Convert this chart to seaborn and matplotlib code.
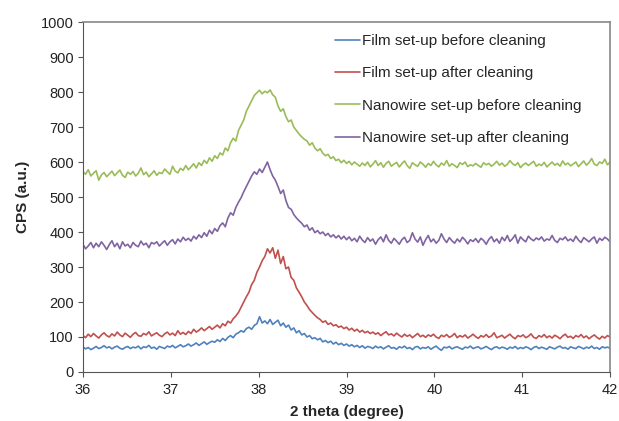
import numpy as np
import pandas as pd
import matplotlib
matplotlib.use("Agg")
import matplotlib.pyplot as plt
import seaborn as sns

# 2 theta grid, 0.03 degree steps from 36 to 42
theta = np.round(np.linspace(36, 42, 201), 3)

film_before = [
    72, 66, 70, 64, 68, 73, 67, 70, 75, 69,
    72, 66, 71, 74, 68, 65, 70, 73, 67, 71,
    69, 74, 66, 72, 70, 76, 68, 71, 65, 73,
    70, 67, 74, 71, 76, 69, 73, 78, 72, 75,
    80, 74, 78, 83, 76, 81, 86, 79, 84, 88,
    85, 92, 87, 96, 90, 99, 104, 98, 108, 112,
    118, 114, 124, 128, 122, 133, 138, 158, 140, 146,
    138, 150, 136, 142, 148, 132, 140, 128, 134, 120,
    126, 112, 118, 106, 110, 100, 104, 95, 98, 92,
    96, 86, 90, 84, 88, 80, 85, 78, 82, 76,
    80, 74, 78, 72, 76, 70, 75, 68, 73, 71,
    67, 74, 69, 72, 66, 71, 75, 68, 70, 65,
    72, 69, 74, 67, 70, 64, 71, 73, 66, 70,
    68, 72, 65, 70, 74, 67, 62, 71, 69, 73,
    66, 70, 72, 68, 65, 71, 69, 74, 67, 70,
    72, 66, 69, 73, 68, 64, 70, 72, 67, 71,
    69, 65, 71, 68, 73, 66, 70, 67, 72, 69,
    64, 70, 73, 67, 71, 68, 65, 72, 69, 66,
    71, 74, 68, 70, 65, 72, 69, 67, 73, 70,
    66, 71, 68, 74, 67, 70, 65, 72, 69, 71,
    68]

film_after = [
    104, 98, 108, 101, 110, 103, 97, 106, 112, 104,
    100, 109, 103, 114, 106, 101, 111, 105, 99, 108,
    113, 104, 102, 110, 106, 115, 103, 108, 112, 105,
    101, 109, 114, 106, 111, 104, 118, 108, 113, 107,
    116, 110, 122, 114, 119, 126, 118, 124, 130, 122,
    128, 134, 126, 138, 132, 145, 140, 152, 160, 170,
    185, 200, 215, 228, 250, 262, 285, 300, 318, 330,
    352, 340, 355, 325, 348, 310, 330, 295, 300, 270,
    262, 240, 228, 215, 200, 190, 178, 170, 162, 155,
    150, 142, 146, 136, 140, 132, 135, 128, 131, 124,
    128, 120, 125, 117, 122, 114, 119, 112, 116, 110,
    114, 108, 112, 104, 110, 115, 106, 109, 103, 111,
    105, 100, 108, 102, 106, 98, 104, 110, 101, 105,
    99, 106, 102, 108, 100, 96, 105, 101, 107, 99,
    103, 110, 98, 104, 100, 106, 97, 102, 108, 101,
    96, 104, 100, 107, 99, 103, 112, 98, 101, 105,
    97, 103, 108, 100, 95, 104, 101, 106, 98, 102,
    109, 99, 96, 104, 100, 107, 98, 103, 97, 105,
    101, 95, 103, 108, 99, 102, 96, 104, 100, 107,
    98, 103, 95, 101, 106, 99, 94, 102, 97, 104,
    100]

nano_before = [
    572, 565, 578, 560, 568, 575, 548, 563, 570, 558,
    566, 574, 561, 569, 577, 562, 556, 571, 565, 573,
    560, 568, 583, 564, 571, 558, 566, 575, 562, 570,
    567, 580, 572, 565, 588, 574, 569, 582, 576, 590,
    578, 586, 595, 583, 598, 590, 605, 596, 612, 602,
    618, 610, 626, 620, 640, 632, 655, 668, 660, 690,
    705, 720, 745, 760, 775, 790, 798, 805, 795, 802,
    798, 806, 792, 785, 760, 745, 752, 730, 715, 720,
    700, 690, 680, 672, 665, 660, 648, 655, 640, 632,
    638, 625, 618, 622, 610, 615, 604, 608, 598, 605,
    596, 602, 592, 600, 594, 588, 597, 590, 600, 586,
    594, 604, 590, 598, 585, 596, 602, 588, 594, 599,
    586, 595, 603, 590, 582, 598, 592, 588, 600, 594,
    585, 596, 590, 602, 592, 586, 597, 591, 604, 588,
    595, 590, 584, 598, 593, 600, 587, 592, 589, 596,
    590, 585, 598, 592, 596, 588, 594, 602, 591, 597,
    588, 593, 604, 595, 590, 598, 584, 592, 597, 590,
    596, 602, 588, 594, 590, 599, 586, 593, 600, 591,
    596, 588, 603, 592, 597, 589, 594, 600, 587, 595,
    603, 591, 598, 610, 594, 590, 600, 596, 608, 592,
    600]

nano_after = [
    365, 352, 360, 370, 355, 368, 358, 372, 362, 350,
    364, 375, 358, 368, 352, 372, 360, 365, 355, 370,
    362, 358, 374, 363, 368, 355, 370, 366, 372, 360,
    368, 375, 362, 372, 378, 366, 380, 372, 385, 376,
    382, 374, 388, 380, 392, 384, 398, 388, 405, 395,
    410, 402, 418, 426, 415, 440, 455, 448, 470, 485,
    498, 515, 530, 545, 560, 572, 565, 580, 570, 585,
    600, 578, 560, 548, 530, 510, 520, 490, 470, 465,
    450, 440, 432, 425, 415, 420, 405, 412, 398, 404,
    395, 400, 390, 396, 386, 392, 383, 390, 380, 388,
    378, 386, 375, 382, 372, 388, 377, 370, 384, 374,
    380, 365, 378, 386, 372, 392, 376, 368, 382, 374,
    365, 378, 385, 370, 376, 398, 380, 371, 386, 362,
    378, 390, 372, 380, 368, 376, 395, 380, 370, 384,
    375, 368, 380, 372, 385, 377, 366, 378, 373, 381,
    370, 382, 376, 365, 379, 387, 372, 380, 368, 385,
    375, 390, 373, 381, 392, 368, 386, 378, 372, 388,
    380, 375, 383, 378, 386, 374, 380, 377, 390, 376,
    370, 382, 378, 386, 375, 380, 373, 388, 377, 370,
    384, 378, 372, 380, 386, 368, 382, 376, 385, 380,
    372]

labels = ["Film set-up before cleaning", "Film set-up after cleaning",
          "Nanowire set-up before cleaning", "Nanowire set-up after cleaning"]
colors = ["#4F81BD", "#C0504D", "#9BBB59", "#8064A2"]

df = pd.concat([
    pd.DataFrame({"theta": theta, "cps": vals, "series": lab})
    for vals, lab in zip([film_before, film_after, nano_before, nano_after], labels)
])

sns.set_style("ticks")
plt.rcParams["font.family"] = ["Liberation Sans", "DejaVu Sans"]

fig = plt.figure(figsize=(6.19, 4.21), dpi=100)
ax = fig.add_axes([0.134, 0.1164, 0.8516, 0.8313])
sns.lineplot(data=df, x="theta", y="cps", hue="series", palette=colors,
             linewidth=1.2, ax=ax)

ax.set_xlim(36, 42)
ax.set_ylim(0, 1000)
ax.set_xticks(range(36, 43))
ax.set_yticks(range(0, 1001, 100))
ax.tick_params(labelsize=10.5, length=3.6, color="#555555", labelcolor="#222222")
ax.tick_params(axis="y", pad=3)
ax.tick_params(axis="x", pad=4)
ax.set_xlabel("2 theta (degree)", fontsize=11, fontweight="bold", labelpad=6)
ax.set_ylabel("CPS (a.u.)", fontsize=11, fontweight="bold", labelpad=8)
for s in ["left", "bottom"]:
    ax.spines[s].set_color("#555555")
for s in ["top", "right"]:
    ax.spines[s].set_color("#888888")
    ax.spines[s].set_linewidth(1.2)

ax.legend(loc="upper right", bbox_to_anchor=(0.972, 1.005), frameon=False,
          fontsize=11, labelspacing=1.2, handlelength=1.6, handletextpad=0.15)

fig.savefig("out.png", dpi=100)
